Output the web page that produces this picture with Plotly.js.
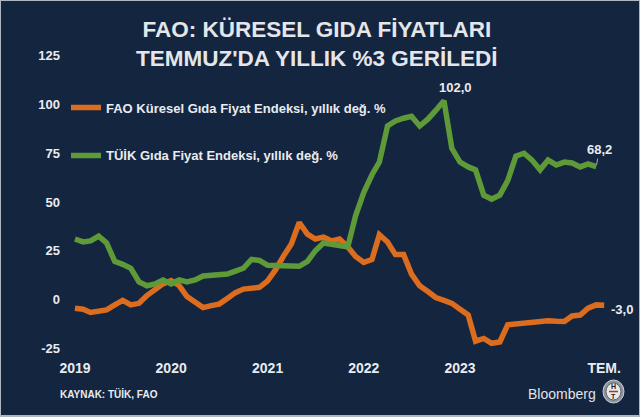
<!DOCTYPE html>
<html>
<head>
<meta charset="utf-8">
<script src="https://cdn.plot.ly/plotly-3.0.1.min.js"></script>
<style>
  html, body { margin: 0; padding: 0; background: #14253f; }
  #wrap { position: relative; width: 640px; height: 417px; }
  #chart { width: 640px; height: 417px; }
  #frame { position: absolute; left: 0; top: 0; width: 640px; height: 417px; box-sizing: border-box;
           border: 1px solid #aeb6c0; border-bottom-width: 2px; pointer-events: none; }
</style>
</head>
<body>
<div id="wrap"><div id="chart"></div><div id="frame"></div></div>
<script>
// Monthly observations, January 2019 onward
const startYear = 2019;
const faoValues = [
  -4.5, -5.0, -6.7, -6.0, -5.4, -2.8, -0.5, -2.8, -2.0, 2.0, 5.5, 8.0,
  9.7, 7.0, 1.5, -1.5, -4.2, -3.2, -2.4, 0.5, 3.5, 5.3, 5.8, 6.2,
  9.5, 15.4, 22.0, 28.5, 39.5, 33.5, 31.0, 32.0, 30.0, 31.0, 27.0, 22.0,
  19.0, 20.5, 33.2, 29.5, 23.0, 23.0, 13.0, 7.0, 4.1, 1.0, -0.5, -2.0,
  -5.0, -8.0, -21.4, -20.0, -22.5, -21.8, -13.0, -12.5, -12.0, -11.5, -11.2, -11.0,
  -11.2, -11.3, -8.5, -8.0, -4.5, -2.8, -3.0
];
const tuikValues = [
  31.0, 29.5, 30.0, 32.5, 29.0, 19.5, 18.0, 16.0, 9.0, 7.0, 8.0, 10.0,
  8.0, 10.0, 9.0, 10.0, 12.0, 12.5, 12.5, 13.0, 14.5, 16.0, 20.5, 20.0,
  17.5, 17.5, 17.0, 17.0, 17.0, 19.5, 25.0, 29.0, 28.5, 28.0, 27.0, 43.0,
  55.0, 64.0, 70.5, 89.0, 91.6, 93.0, 94.0, 89.0, 92.5, 97.0, 102.0, 77.5,
  70.5, 68.0, 66.5, 53.5, 51.5, 53.5, 61.0, 73.5, 75.0, 71.5, 66.5, 71.5,
  69.0, 70.5, 70.0, 68.0, 69.5, 68.2
];
const seriesNames = ['FAO Küresel Gıda Fiyat Endeksi, yıllık değ. %', 'TÜİK Gıda Fiyat Endeksi, yıllık değ. %'];
const tickDates = ['2019-01-01', '2020-01-01', '2021-01-01', '2022-01-01', '2023-01-01', '2024-07-01'];
const tickLabels = ['2019', '2020', '2021', '2022', '2023', 'TEM.'];
const yTicks = [-25, 0, 25, 50, 75, 100, 125];

function monthDates(n) {
  const out = [];
  for (let i = 0; i < n; i++) {
    const y = startYear + Math.floor(i / 12);
    const m = (i % 12) + 1;
    out.push(y + '-' + String(m).padStart(2, '0') + '-01');
  }
  return out;
}
const faoDates = monthDates(faoValues.length);
const tuikDates = monthDates(tuikValues.length);

const ORANGE = '#dc6c1e';
const GREEN = '#5f9a38';
const TXT = '#e9ebef';
const FONT = 'Liberation Sans, Arial, sans-serif';

const traces = [
  { x: faoDates, y: faoValues, type: 'scatter', mode: 'lines', name: '<b>' + seriesNames[0] + '</b>',
    legendgroup: 'a', line: { color: ORANGE, width: 5.5 }, hoverinfo: 'skip' },
  { x: tuikDates, y: tuikValues, type: 'scatter', mode: 'lines', name: '<b>' + seriesNames[1] + '</b>',
    legendgroup: 'b', line: { color: GREEN, width: 5.5 }, hoverinfo: 'skip' }
];

const peakIdx = tuikValues.indexOf(Math.max(...tuikValues));
const lastT = tuikValues.length - 1;
const lastF = faoValues.length - 1;
const fmt = v => v.toFixed(1).replace('.', ',');

const layout = {
  width: 640, height: 417,
  paper_bgcolor: '#14253f', plot_bgcolor: '#14253f',
  margin: { l: 66, r: 20, t: 50, b: 63 },
  font: { family: FONT, color: TXT },
  title: {
    text: '<b>FAO: KÜRESEL GIDA FİYATLARI<br>TEMMUZ\'DA YILLIK %3 GERİLEDİ</b>',
    font: { family: FONT, size: 22.5, color: '#e4e6ea' },
    x: 0.495, xanchor: 'center', y: 0.911, yanchor: 'middle', yref: 'container'
  },
  showlegend: true,
  legend: {
    x: 0.0, xanchor: 'left', y: 0.86, yanchor: 'top',
    bgcolor: 'rgba(0,0,0,0)', traceorder: 'grouped', tracegroupgap: 28,
    font: { family: FONT, size: 13, color: TXT }
  },
  xaxis: {
    type: 'date', range: ['2018-11-28', '2024-08-30'],
    showgrid: false, zeroline: false, showline: false, ticks: '',
    tickmode: 'array', tickvals: tickDates, ticktext: tickLabels,
    tickfont: { family: FONT, size: 14, color: TXT, weight: 'bold' },
    ticklabelstandoff: 4
  },
  yaxis: {
    range: [-28, 128], showgrid: false, zeroline: false, showline: false, ticks: '',
    tickmode: 'array', tickvals: yTicks, ticktext: yTicks.map(String),
    tickfont: { family: FONT, size: 13, color: TXT, weight: 'bold' },
    ticklabelstandoff: 5
  },
  annotations: [
    { x: tuikDates[peakIdx], y: tuikValues[peakIdx], text: '<b>' + fmt(tuikValues[peakIdx]) + '</b>',
      showarrow: false, xanchor: 'center', yanchor: 'bottom', xshift: 12, yshift: 4,
      font: { family: FONT, size: 13, color: TXT } },
    { x: tuikDates[lastT], y: tuikValues[lastT], text: '<b>' + fmt(tuikValues[lastT]) + '</b>',
      showarrow: true, arrowhead: 0, arrowwidth: 0.8, arrowcolor: '#c9ced6', ax: 3, ay: -17, standoff: 2,
      font: { family: FONT, size: 13, color: TXT } },
    { x: faoDates[lastF], y: faoValues[lastF], text: '<b>' + fmt(faoValues[lastF]) + '</b>',
      showarrow: false, xanchor: 'left', yanchor: 'middle', xshift: 5, yshift: -4,
      font: { family: FONT, size: 13, color: TXT } },
    { xref: 'paper', yref: 'paper', x: -0.0144, y: -0.1316, xanchor: 'left', yanchor: 'middle',
      text: '<b>KAYNAK: TÜİK, FAO</b>', showarrow: false,
      font: { family: FONT, size: 10, color: TXT } },
    { xref: 'paper', yref: 'paper', x: 0.9603, y: -0.1316, xanchor: 'right', yanchor: 'middle',
      text: 'Bloomberg', showarrow: false,
      font: { family: FONT, size: 14, color: '#e0e3e8' } },
    { xref: 'paper', yref: 'paper', x: 0.9882, y: -0.1069, xanchor: 'center', yanchor: 'middle',
      text: '<b>H</b>', showarrow: false, font: { family: FONT, size: 7, color: '#1a1a1a' } },
    { xref: 'paper', yref: 'paper', x: 0.9882, y: -0.1398, xanchor: 'center', yanchor: 'middle',
      text: '<b>T</b>', showarrow: false, font: { family: FONT, size: 7, color: '#1a1a1a' } }
  ],
  shapes: [
    { type: 'circle', xref: 'paper', yref: 'paper', x0: 0.9693, x1: 1.0072, y0: -0.1612, y1: -0.0855,
      fillcolor: '#8e949b', line: { color: '#c8ccd1', width: 1 }, layer: 'above' },
    { type: 'circle', xref: 'paper', yref: 'paper', x0: 0.9747, x1: 1.0018, y0: -0.1513, y1: -0.0954,
      fillcolor: '#e6e8ea', line: { color: '#5c6168', width: 1 }, layer: 'above' },
    { type: 'line', xref: 'paper', yref: 'paper', x0: 0.9801, x1: 0.9963, y0: -0.1234, y1: -0.1234,
      line: { color: '#c0282d', width: 1.5 }, layer: 'above' }
  ]
};

Plotly.newPlot('chart', traces, layout, { displayModeBar: false, staticPlot: true });
</script>
</body>
</html>
